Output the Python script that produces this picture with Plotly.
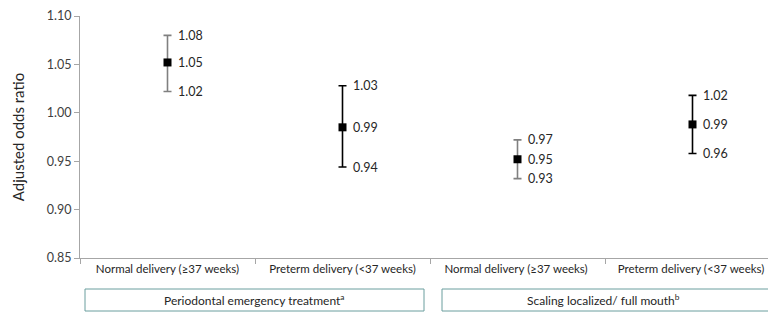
import plotly.graph_objects as go

categories = ["Normal delivery (≥37 weeks)", "Preterm delivery (<37 weeks)",
              "Normal delivery (≥37 weeks) ", "Preterm delivery (<37 weeks) "]
estimates = [1.052, 0.985, 0.952, 0.988]
upper = [1.080, 1.028, 0.972, 1.018]
lower = [1.022, 0.944, 0.932, 0.958]
upper_labels = ["1.08", "1.03", "0.97", "1.02"]
est_labels = ["1.05", "0.99", "0.95", "0.99"]
lower_labels = ["1.02", "0.94", "0.93", "0.96"]
bar_colors = ["#808080", "#000000", "#808080", "#000000"]
groups = ["Periodontal emergency treatment<sup>a</sup>", "Scaling localized/ full mouth<sup>b</sup>"]
y_ticks = [0.85, 0.90, 0.95, 1.00, 1.05, 1.10]

FONT = "Lato, Open Sans, sans-serif"
fig = go.Figure()

for i, c in enumerate(categories):
    fig.add_trace(go.Scatter(
        x=[c], y=[estimates[i]], mode="markers",
        marker=dict(symbol="square", size=8, color="black"),
        error_y=dict(type="data", symmetric=False,
                     array=[upper[i] - estimates[i]],
                     arrayminus=[estimates[i] - lower[i]],
                     color=bar_colors[i], thickness=1.6, width=4),
        showlegend=False, hoverinfo="skip"))

for i, c in enumerate(categories):
    for yv, lab in ((upper[i], upper_labels[i]), (estimates[i], est_labels[i]), (lower[i], lower_labels[i])):
        fig.add_annotation(x=c, y=yv, text=lab, showarrow=False, xanchor="left",
                           yanchor="middle", xshift=8,
                           font=dict(family=FONT, size=12.5, color="#262626"))

# group boxes (pixel geometry converted to paper coords)
L, R, T, B = 80, 768, 16, 258
W, H = R - L, B - T
box_specs = [(85, 424, 254), (442, 800, 603)]
for (x0, x1, xc), g in zip(box_specs, groups):
    fig.add_shape(type="rect", xref="paper", yref="paper",
                  x0=(x0 - L) / W, x1=(x1 - L) / W,
                  y0=(B - 311) / H, y1=(B - 289) / H,
                  line=dict(color="#6a9e9e", width=1), fillcolor="rgba(0,0,0,0)")
    fig.add_annotation(xref="paper", yref="paper", x=(xc - L) / W,
                       y=(B - 300) / H, text=g, showarrow=False,
                       font=dict(family=FONT, size=12, color="#262626"),
                       xanchor="center", yanchor="middle")

fig.update_layout(
    width=768, height=315,
    margin=dict(l=L, r=0, t=T, b=315 - B, autoexpand=False),
    plot_bgcolor="white", paper_bgcolor="white",
    font=dict(family=FONT, size=11, color="#404040"),
    xaxis=dict(type="category", range=[-0.5, 3.5 - 12 / 175], automargin=False,
               showline=True, linecolor="#a6a6a6", linewidth=1,
               ticks="outside", tickson="boundaries", ticklen=5, tickcolor="#a6a6a6",
               tickfont=dict(family=FONT, size=11.5, color="#262626"),
               showgrid=False, zeroline=False, fixedrange=True),
    yaxis=dict(range=[0.85, 1.10], tickvals=y_ticks, tickformat=".2f", automargin=False,
               showline=True, linecolor="#a6a6a6", linewidth=1,
               ticks="outside", ticklen=5, tickcolor="#a6a6a6",
               tickfont=dict(family=FONT, size=12.5, color="#404040"),
               showgrid=False, zeroline=False,
               title=dict(text="Adjusted odds ratio", standoff=18,
                          font=dict(family=FONT, size=15, color="#262626"))),
)

fig.write_html("out.html", config={"displayModeBar": False},
               post_script="document.body.style.margin='0';document.body.style.overflow='hidden';")
